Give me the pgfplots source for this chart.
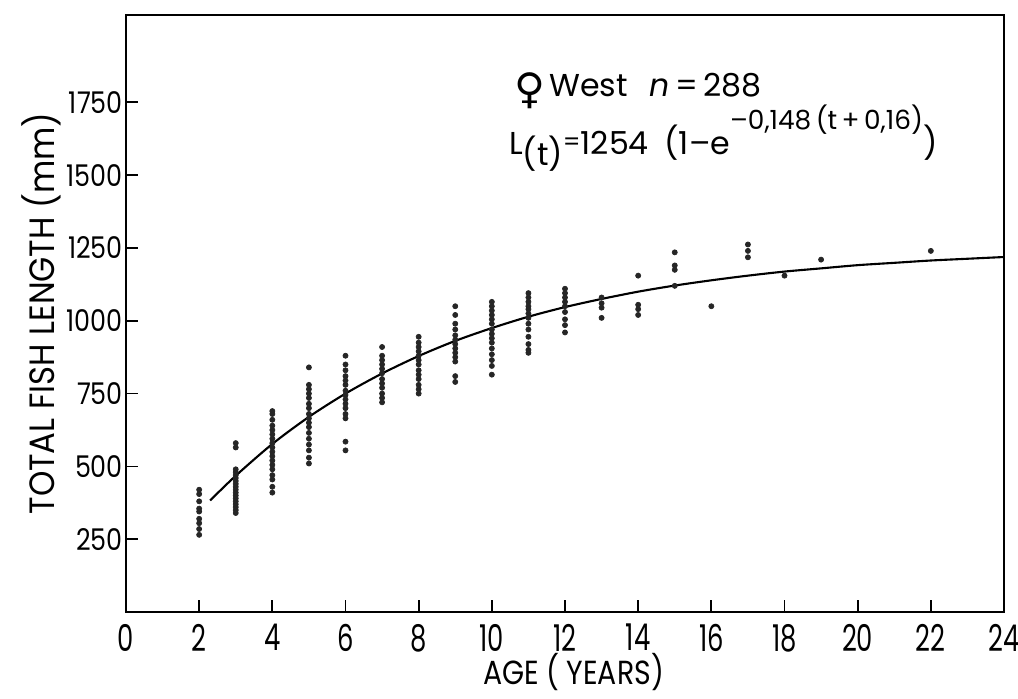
\documentclass[border=0pt]{standalone}
\usepackage{fontspec}
\setmainfont{Poppins}
\newfontfamily\symfont{DejaVu Sans}
\usepackage{pgfplots}
\pgfplotsset{compat=1.18}

\begin{document}
\begin{tikzpicture}
\begin{axis}[
    name=ax,
    scale only axis,
    width=17.56cm,
    height=11.94cm,
    xmin=0, xmax=24,
    ymin=0, ymax=2050,
    xtick={0,2,...,24},
    ytick={250,500,750,1000,1250,1500,1750},
    tick pos=left,
    tick align=inside,
    major tick length=0.24cm,
    axis line style={line width=1.2pt},
    tick style={line width=1pt, black},
    /pgf/number format/assume math mode=true,
    /pgf/number format/1000 sep={},
    x tick label style={font=\fontsize{21}{24}\selectfont, xscale=0.7, yshift=-0.12cm},
    y tick label style={font=\fontsize{17}{20}\selectfont, xscale=0.85, xshift=0.05cm},
    xlabel={AGE ( YEARS)},
    xlabel style={font=\fontsize{19}{21}\selectfont, xscale=0.85, yshift=0.22cm, xshift=0.2cm},
    ylabel={TOTAL FISH LENGTH (mm)},
    ylabel style={font=\fontsize{20}{22}\selectfont, xscale=0.92, yshift=-0.1cm},
    clip=false,
]
% von Bertalanffy fit, read at whole years
\addplot[black, line width=1.2pt, smooth] coordinates {
  (2.3,383) (3,468) (4,577) (5,670) (6,750) (7,819) (8,879) (9,931)
  (10,975) (11,1014) (12,1047) (13,1075) (14,1100) (15,1121) (16,1139)
  (17,1155) (18,1169) (19,1180) (20,1191) (21,1199) (22,1207) (23,1213)
  (24,1219)
};
% observed lengths
\addplot[only marks, mark=*, mark size=1.45pt, black!85] coordinates {
  (2,420) (2,405) (2,380) (2,355) (2,345) (2,320) (2,305) (2,285) (2,265)
  (3,580) (3,565) (3,490) (3,480) (3,470) (3,460) (3,450) (3,440) (3,430)
  (3,420) (3,410) (3,400) (3,390) (3,380) (3,370) (3,360) (3,350) (3,340)
  (4,690) (4,680) (4,660) (4,640) (4,625) (4,610) (4,595) (4,580) (4,565)
  (4,550) (4,535) (4,520) (4,505) (4,490) (4,470) (4,455) (4,430) (4,410)
  (5,840) (5,780) (5,765) (5,750) (5,735) (5,715) (5,700) (5,680) (5,665)
  (5,650) (5,635) (5,615) (5,595) (5,575) (5,555) (5,530) (5,510)
  (6,880) (6,850) (6,830) (6,810) (6,795) (6,780) (6,760) (6,745) (6,730)
  (6,715) (6,700) (6,680) (6,665) (6,585) (6,555)
  (7,910) (7,880) (7,865) (7,850) (7,835) (7,820) (7,800) (7,785) (7,770)
  (7,750) (7,735) (7,720)
  (8,945) (8,925) (8,910) (8,895) (8,880) (8,865) (8,850) (8,830) (8,815)
  (8,800) (8,780) (8,765) (8,750)
  (9,1050) (9,1020) (9,990) (9,970) (9,950) (9,935) (9,920) (9,905) (9,890)
  (9,875) (9,860) (9,810) (9,790)
  (10,1065) (10,1050) (10,1035) (10,1020) (10,1005) (10,990) (10,970)
  (10,955) (10,940) (10,925) (10,905) (10,885) (10,865) (10,845) (10,815)
  (11,1095) (11,1080) (11,1065) (11,1050) (11,1040) (11,1025) (11,1010)
  (11,990) (11,970) (11,945) (11,920) (11,900) (11,890)
  (12,1110) (12,1095) (12,1080) (12,1065) (12,1050) (12,1030) (12,1005)
  (12,985) (12,960)
  (13,1080) (13,1060) (13,1045) (13,1010)
  (14,1155) (14,1055) (14,1040) (14,1020)
  (15,1235) (15,1190) (15,1175) (15,1120)
  (16,1050)
  (17,1262) (17,1240) (17,1218)
  (18,1155)
  (19,1210)
  (22,1240)
};
\node[anchor=center, font=\symfont\fontsize{24}{26}\selectfont] at (axis cs:11.05,1790) {♀};
\node[anchor=base west, font=\fontsize{18}{20}\selectfont] at (axis cs:11.4,1770) {West};
\node[anchor=base west, font=\fontsize{18}{20}\selectfont] at (axis cs:14.15,1770) {\textit{n}\,=\,288};
\node[anchor=base west, font=\fontsize{18}{20}\selectfont] at (axis cs:10.3,1570)
  {L\raisebox{-0.35em}{(t)}\raisebox{0.15em}{\fontsize{14}{16}\selectfont =}1254\hspace{0.5em}(1–e\raisebox{0.8em}{\fontsize{15}{17}\selectfont –0,148\,(t\,+\,0,16)})};
\end{axis}
\pgfresetboundingbox
\path ([shift={(-2.52cm,-1.72cm)}]ax.south west) rectangle ([shift={(0.28cm,0.3cm)}]ax.north east);
\end{tikzpicture}
\end{document}
